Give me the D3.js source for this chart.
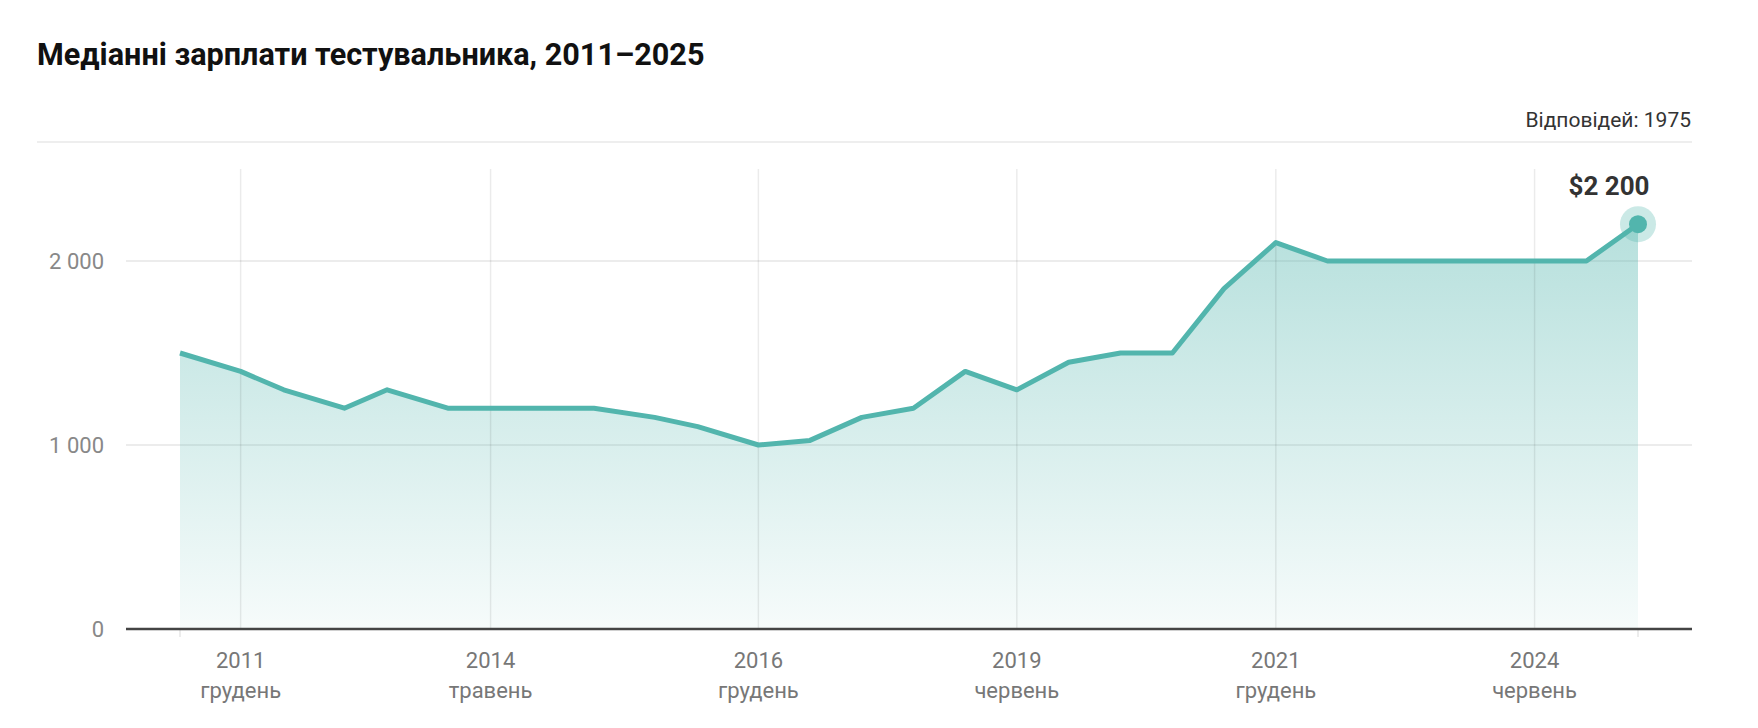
<!DOCTYPE html>
<html lang="uk">
<head>
    <meta charset="UTF-8">
    <title>Медіанні зарплати тестувальника</title>
    <script src="https://d3js.org/d3.v7.min.js"></script>
    <style>
        body {
            margin: 0;
            background: #fff;
            font-family: 'Roboto', sans-serif;
        }

        svg {
            display: block;
        }
    </style>
</head>
<body>
    <svg id="chart"></svg>

    <script>
        // survey periods (year-month) and median salary, USD
        const periods = [
            "2011-05", "2011-12", "2012-05", "2012-12", "2013-05", "2013-12",
            "2014-05", "2014-12", "2015-05", "2015-12", "2016-05", "2016-12",
            "2017-06", "2017-12", "2018-06", "2018-12", "2019-06", "2019-12",
            "2020-06", "2020-12", "2021-06", "2021-12", "2022-06", "2022-12",
            "2023-06", "2023-12", "2024-06", "2024-12", "2025-06"
        ];
        const salaries = [
            1500, 1400, 1300, 1200, 1300, 1200,
            1200, 1200, 1200, 1150, 1100, 1000,
            1025, 1150, 1200, 1400, 1300, 1450,
            1500, 1500, 1850, 2100, 2000, 2000,
            2000, 2000, 2000, 2000, 2200
        ];

        const xTickPeriods = ["2011-12", "2014-05", "2016-12", "2019-06", "2021-12", "2024-06"];
        const xTickMonths = ["грудень", "травень", "грудень", "червень", "грудень", "червень"];
        const yTicks = [0, 1000, 2000];

        const title = "Медіанні зарплати тестувальника, 2011–2025";
        const respondents = "Відповідей: 1975";

        const width = 1758, height = 728;
        const teal = "#52b5ad";

        const parseMonth = d3.timeParse("%Y-%m");
        const data = periods.map((p, i) => ({ date: parseMonth(p), value: salaries[i] }));

        const locale = d3.formatLocale({ decimal: ",", thousands: "\u00a0", grouping: [3], currency: ["$", ""] });
        const fmt = locale.format(",");

        const svg = d3.select("#chart")
            .attr("width", width)
            .attr("height", height);

        // header
        svg.append("text")
            .attr("x", 37)
            .attr("y", 65)
            .attr("font-size", 30.6)
            .attr("font-weight", 700)
            .attr("fill", "#111")
            .text(title);

        svg.append("text")
            .attr("x", 1691)
            .attr("y", 127)
            .attr("text-anchor", "end")
            .attr("font-size", 21)
            .attr("fill", "#333")
            .text(respondents);

        svg.append("line")
            .attr("x1", 37).attr("x2", 1692)
            .attr("y1", 142).attr("y2", 142)
            .attr("stroke", "#eeeeee")
            .attr("stroke-width", 2);

        // scales
        const x = d3.scaleTime()
            .domain(d3.extent(data, d => d.date))
            .range([180, 1638]);

        const y = d3.scaleLinear()
            .domain([0, 2500])
            .range([629, 169]);

        const plotLeft = 126, plotRight = 1692;

        // gradient for area
        const defs = svg.append("defs");
        const grad = defs.append("linearGradient")
            .attr("id", "areaGrad")
            .attr("x1", 0).attr("y1", 0)
            .attr("x2", 0).attr("y2", 1);
        grad.append("stop").attr("offset", "0%").attr("stop-color", teal).attr("stop-opacity", 0.42);
        grad.append("stop").attr("offset", "100%").attr("stop-color", teal).attr("stop-opacity", 0.05);

        // horizontal gridlines
        svg.append("g")
            .selectAll("line")
            .data(yTicks.filter(d => d > 0))
            .enter().append("line")
            .attr("x1", plotLeft).attr("x2", plotRight)
            .attr("y1", d => y(d)).attr("y2", d => y(d))
            .attr("stroke", "#e6e6e6")
            .attr("stroke-width", 1.5);

        // y labels
        svg.append("g")
            .selectAll("text")
            .data(yTicks)
            .enter().append("text")
            .attr("x", 104)
            .attr("y", d => y(d))
            .attr("dy", "0.35em")
            .attr("text-anchor", "end")
            .attr("font-size", 22)
            .attr("fill", "#888")
            .text(d => fmt(d));

        // area + line
        const area = d3.area()
            .x(d => x(d.date))
            .y0(y(0))
            .y1(d => y(d.value));

        const line = d3.line()
            .x(d => x(d.date))
            .y(d => y(d.value));

        svg.append("path")
            .datum(data)
            .attr("d", area)
            .attr("fill", "url(#areaGrad)");

        // vertical gridlines
        const xTicks = xTickPeriods.map(parseMonth);
        svg.append("g")
            .selectAll("line")
            .data(xTicks)
            .enter().append("line")
            .attr("x1", d => x(d)).attr("x2", d => x(d))
            .attr("y1", y(2500)).attr("y2", y(0))
            .attr("stroke", "#000")
            .attr("stroke-opacity", 0.08)
            .attr("stroke-width", 1.5);

        // small ticks at area edges
        svg.append("g")
            .selectAll("line")
            .data(d3.extent(data, d => d.date))
            .enter().append("line")
            .attr("x1", d => x(d)).attr("x2", d => x(d))
            .attr("y1", y(0)).attr("y2", y(0) + 8)
            .attr("stroke", "#e6e6e6")
            .attr("stroke-width", 1.5);

        svg.append("path")
            .datum(data)
            .attr("d", line)
            .attr("fill", "none")
            .attr("stroke", teal)
            .attr("stroke-width", 5)
            .attr("stroke-linejoin", "round");

        // baseline axis
        svg.append("line")
            .attr("x1", plotLeft).attr("x2", plotRight)
            .attr("y1", y(0)).attr("y2", y(0))
            .attr("stroke", "#444")
            .attr("stroke-width", 2.5);

        // x labels
        const xl = svg.append("g")
            .selectAll("g")
            .data(xTicks)
            .enter().append("g")
            .attr("transform", d => `translate(${x(d)},0)`);

        xl.append("text")
            .attr("y", 668)
            .attr("text-anchor", "middle")
            .attr("font-size", 22)
            .attr("fill", "#777")
            .text(d => d3.timeFormat("%Y")(d));

        xl.append("text")
            .attr("y", 698)
            .attr("text-anchor", "middle")
            .attr("font-size", 22)
            .attr("fill", "#777")
            .text((d, i) => xTickMonths[i]);

        // last point highlight
        const last = data[data.length - 1];
        svg.append("circle")
            .attr("cx", x(last.date))
            .attr("cy", y(last.value))
            .attr("r", 18)
            .attr("fill", teal)
            .attr("fill-opacity", 0.3);

        svg.append("circle")
            .attr("cx", x(last.date))
            .attr("cy", y(last.value))
            .attr("r", 9)
            .attr("fill", teal);

        svg.append("text")
            .attr("x", x(last.date) - 29)
            .attr("y", 195)
            .attr("text-anchor", "middle")
            .attr("font-size", 26)
            .attr("font-weight", 700)
            .attr("fill", "#333")
            .text("$" + fmt(last.value));
    </script>
</body>
</html>
